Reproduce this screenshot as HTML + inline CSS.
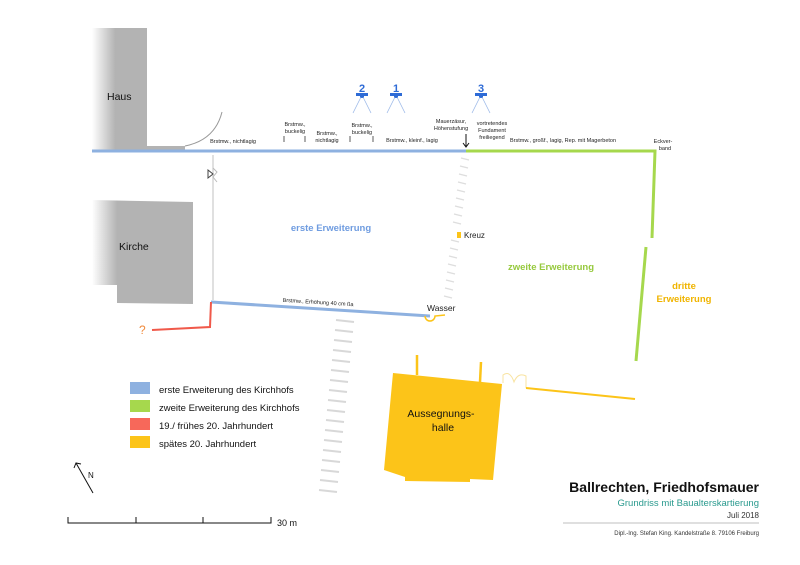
<!DOCTYPE html>
<html><head><meta charset="utf-8"><style>
html,body{margin:0;padding:0;background:#fff}
svg{display:block}
text{font-family:"Liberation Sans","DejaVu Sans",sans-serif}
</style></head><body>
<svg width="800" height="565" viewBox="0 0 800 565" xmlns="http://www.w3.org/2000/svg">
<defs>
<linearGradient id="fadeL" x1="0" x2="1" y1="0" y2="0">
<stop offset="0" stop-color="#b3b3b3" stop-opacity="0"/><stop offset="0.25" stop-color="#b3b3b3"/><stop offset="1" stop-color="#b3b3b3"/></linearGradient>
<linearGradient id="fadeT" x1="0" x2="0" y1="0" y2="1">
<stop offset="0" stop-color="#fff" stop-opacity="1"/><stop offset="0.15" stop-color="#fff" stop-opacity="0"/></linearGradient>
</defs>
<!-- Haus -->
<path d="M92,28 L147,28 L147,146 L185,146 L185,151 L92,151 Z" fill="url(#fadeL)"/>
<rect x="92" y="24" width="60" height="20" fill="url(#fadeT)"/>
<path d="M185,146 Q215,140 222,112" fill="none" stroke="#999" stroke-width="1"/>
<!-- Kirche -->
<path d="M92,200 L193,202 L193,304 L117,303 L117,285 L92,285 Z" fill="url(#fadeL)"/>
<!-- gray wall -->
<line x1="213" y1="155" x2="213" y2="300" stroke="#ccc" stroke-width="1.2"/>
<path d="M208,170 L213,174 L208,178 Z" fill="none" stroke="#444" stroke-width="1"/>
<path d="M213,168 L217,172 L213,177 L217,182" fill="none" stroke="#bbb" stroke-width="1"/>
<!-- blue top -->
<line x1="92" y1="151" x2="466" y2="151" stroke="#8eb1e0" stroke-width="3"/>
<!-- green -->
<polyline points="466,151 655,151 652,238" fill="none" stroke="#a6d84d" stroke-width="3"/>
<line x1="646" y1="247" x2="636" y2="361" stroke="#a6d84d" stroke-width="3"/>
<!-- blue bottom -->
<polyline points="211,302 430,316" fill="none" stroke="#8eb1e0" stroke-width="3"/>
<!-- red -->
<polyline points="211,302 210,327 152,330" fill="none" stroke="#f0594a" stroke-width="2"/>
<text x="139" y="334" font-size="12" fill="#f08a3c">?</text>
<!-- dashes -->
<g stroke="#ddd" stroke-width="1.3">
<line x1="461" y1="158" x2="469" y2="160"/><line x1="460" y1="166" x2="468" y2="168"/><line x1="459" y1="174" x2="467" y2="176"/><line x1="458" y1="182" x2="466" y2="184"/><line x1="457" y1="190" x2="465" y2="192"/><line x1="456" y1="198" x2="464" y2="200"/><line x1="455" y1="206" x2="463" y2="208"/><line x1="454" y1="214" x2="462" y2="216"/><line x1="453" y1="222" x2="461" y2="224"/><line x1="451" y1="240" x2="459" y2="242"/><line x1="450" y1="248" x2="458" y2="250"/><line x1="449" y1="256" x2="457" y2="258"/><line x1="448" y1="264" x2="456" y2="266"/><line x1="447" y1="272" x2="455" y2="274"/><line x1="446" y1="280" x2="454" y2="282"/><line x1="445" y1="288" x2="453" y2="290"/><line x1="444" y1="296" x2="452" y2="298"/>
</g>
<g stroke="#d8d8d8" stroke-width="2">
<line x1="336" y1="320" x2="354" y2="322"/><line x1="335" y1="330" x2="353" y2="332"/><line x1="334" y1="340" x2="352" y2="342"/><line x1="333" y1="350" x2="351" y2="352"/><line x1="332" y1="360" x2="350" y2="362"/><line x1="331" y1="370" x2="349" y2="372"/><line x1="330" y1="380" x2="348" y2="382"/><line x1="329" y1="390" x2="347" y2="392"/><line x1="328" y1="400" x2="346" y2="402"/><line x1="327" y1="410" x2="345" y2="412"/><line x1="326" y1="420" x2="344" y2="422"/><line x1="325" y1="430" x2="343" y2="432"/><line x1="324" y1="440" x2="342" y2="442"/><line x1="323" y1="450" x2="341" y2="452"/><line x1="322" y1="460" x2="340" y2="462"/><line x1="321" y1="470" x2="339" y2="472"/><line x1="320" y1="480" x2="338" y2="482"/><line x1="319" y1="490" x2="337" y2="492"/>
</g>
<!-- Kreuz / Wasser -->
<rect x="457" y="232" width="4" height="6" fill="#fcc419"/>
<text x="464" y="238" font-size="8" fill="#222">Kreuz</text>
<text x="427" y="311" font-size="8.5" fill="#222">Wasser</text>
<path d="M425,316 A5,5 0 0 0 435,316 L445,315" fill="none" stroke="#fcc419" stroke-width="1.5"/>
<!-- halle -->
<polygon points="393,373 502,384 493,480 470,479 470,482 405,481 405,477 384,470" fill="#fcc419"/>
<line x1="417" y1="355" x2="417" y2="375" stroke="#fcc419" stroke-width="2.5"/>
<line x1="481" y1="362" x2="480" y2="382" stroke="#fcc419" stroke-width="2.5"/>
<text x="441" y="417" font-size="10.5" text-anchor="middle" fill="#111">Aussegnungs-</text>
<text x="443" y="431" font-size="10.5" text-anchor="middle" fill="#111">halle</text>
<path d="M503,383 L503,375 Q510,370 514,382 Q518,372 526,376 L526,388" fill="none" stroke="#f8e3a0" stroke-width="1"/>
<line x1="526" y1="388" x2="635" y2="399" stroke="#fcc419" stroke-width="2"/>
<!-- labels regions -->
<text x="331" y="231" font-size="9.5" font-weight="bold" text-anchor="middle" fill="#6f9ce0">erste Erweiterung</text>
<text x="551" y="270" font-size="9.5" font-weight="bold" text-anchor="middle" fill="#96c93d">zweite Erweiterung</text>
<text x="684" y="289" font-size="9.5" font-weight="bold" text-anchor="middle" fill="#f0b400">dritte</text>
<text x="684" y="302" font-size="9.5" font-weight="bold" text-anchor="middle" fill="#f0b400">Erweiterung</text>
<!-- small labels -->
<g font-size="5.5" fill="#222" text-anchor="middle">
<text x="233" y="143">Brstmw., nichtlagig</text>
<text x="295" y="126">Brstmw.,</text><text x="295" y="133">buckelig</text>
<text x="327" y="135">Brstmw.,</text><text x="327" y="142">nichtlagig</text>
<text x="362" y="127">Brstmw.,</text><text x="362" y="134">buckelig</text>
<text x="412" y="142">Brstmw., kleinf., lagig</text>
<text x="451" y="123">Mauerzäsur,</text><text x="451" y="130">Höhenstufung</text>
<text x="492" y="125">vortretendes</text><text x="492" y="132">Fundament</text><text x="492" y="139">freiliegend</text>
<text x="563" y="142">Brstmw., großf., lagig, Rep. mit Magerbeton</text>
<text x="663" y="143">Eckver-</text><text x="665" y="150">band</text>
<text x="318" y="304" transform="rotate(3.5 318 304)">Brstmw., Erhöhung 40 cm ßa</text>
</g>
<g stroke="#333" stroke-width="0.8">
<line x1="284" y1="136" x2="284" y2="142"/><line x1="305" y1="136" x2="305" y2="142"/>
<line x1="350" y1="136" x2="350" y2="142"/><line x1="373" y1="136" x2="373" y2="142"/>
</g>
<path d="M466,134 L466,146 M463,143 L466,147 L469,143" fill="none" stroke="#111" stroke-width="1"/>
<!-- stations -->
<g fill="#2e6bd6" font-size="11" font-weight="bold" text-anchor="middle">
<text x="362" y="92">2</text><text x="396" y="92">1</text><text x="481" y="92">3</text>
</g>
<g fill="#2e6bd6">
<rect x="356" y="93" width="12" height="3"/><rect x="360" y="96" width="4" height="2"/>
<rect x="390" y="93" width="12" height="3"/><rect x="394" y="96" width="4" height="2"/>
<rect x="475" y="93" width="12" height="3"/><rect x="479" y="96" width="4" height="2"/>
</g>
<g stroke="#9bb8e8" stroke-width="0.8">
<line x1="361" y1="97" x2="353" y2="113"/><line x1="363" y1="97" x2="371" y2="113"/>
<line x1="395" y1="97" x2="387" y2="113"/><line x1="397" y1="97" x2="405" y2="113"/>
<line x1="480" y1="97" x2="472" y2="113"/><line x1="482" y1="97" x2="490" y2="113"/>
</g>
<!-- Haus/Kirche labels -->
<text x="107" y="100" font-size="10.5" fill="#111">Haus</text>
<text x="119" y="250" font-size="10.5" fill="#111">Kirche</text>
<!-- legend -->
<rect x="130" y="382" width="20" height="12" fill="#8eb1e0"/>
<rect x="130" y="400" width="20" height="12" fill="#a6d84d"/>
<rect x="130" y="418" width="20" height="12" fill="#f7685a"/>
<rect x="130" y="436" width="20" height="12" fill="#fcc419"/>
<g font-size="9.5" fill="#111">
<text x="159" y="393">erste Erweiterung des Kirchhofs</text>
<text x="159" y="411">zweite Erweiterung des Kirchhofs</text>
<text x="159" y="429">19./ frühes 20. Jahrhundert</text>
<text x="159" y="447">spätes 20. Jahrhundert</text>
</g>
<!-- north -->
<path d="M93,493 L76,463 M74,468 L76,463 L81,464" fill="none" stroke="#111" stroke-width="1"/>
<text x="88" y="478" font-size="8" fill="#111">N</text>
<!-- scale -->
<path d="M68,517 L68,523 L271,523 L271,517 M136,517 L136,523 M203,517 L203,523" fill="none" stroke="#111" stroke-width="1"/>
<text x="277" y="526" font-size="9" fill="#111">30 m</text>
<!-- title -->
<text x="759" y="492" font-size="14" font-weight="bold" text-anchor="end" fill="#111">Ballrechten, Friedhofsmauer</text>
<text x="759" y="506" font-size="9.5" text-anchor="end" fill="#2a9a8e">Grundriss mit Baualterskartierung</text>
<text x="759" y="518" font-size="8" text-anchor="end" fill="#333">Juli 2018</text>
<line x1="563" y1="523" x2="759" y2="523" stroke="#aaa" stroke-width="0.8"/>
<text x="759" y="535" font-size="6" text-anchor="end" fill="#333">Dipl.-Ing. Stefan King. Kandelstraße 8. 79106 Freiburg</text>
</svg>
</body></html>
